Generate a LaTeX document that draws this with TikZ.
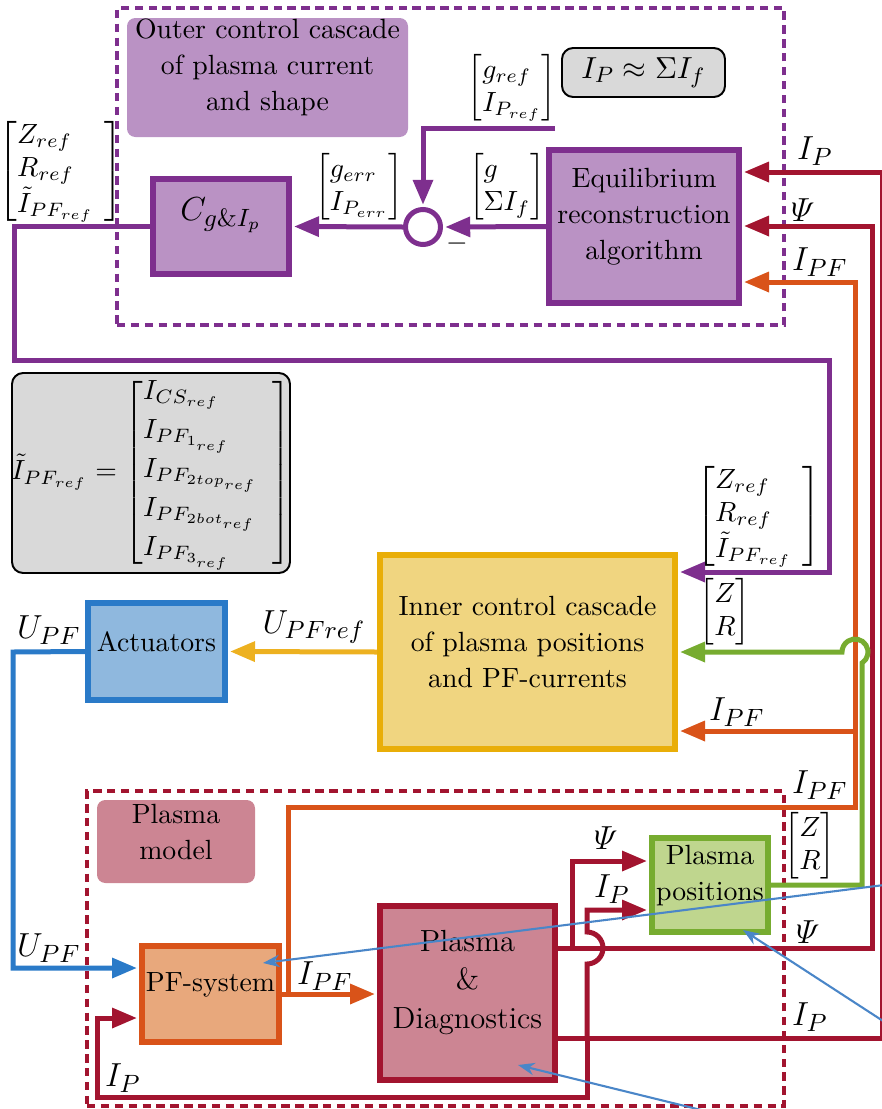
\documentclass[tikz,border=0pt]{standalone}
\usepackage{amsmath}
\usetikzlibrary{arrows.meta,fit}

\definecolor{mpurple}{HTML}{7E2F8E}
\definecolor{mpurplefill}{HTML}{BA92C4}
\definecolor{mred}{HTML}{A2142F}
\definecolor{mredfill}{HTML}{CC8593}
\definecolor{morange}{HTML}{D95319}
\definecolor{morangefill}{HTML}{E8A87C}
\definecolor{myellow}{HTML}{EDB120}
\definecolor{myellowdark}{HTML}{E9AE08}
\definecolor{myellowfill}{HTML}{F0D580}
\definecolor{mblue}{HTML}{2A7AC8}
\definecolor{mbluefill}{HTML}{8FB8DE}
\definecolor{mgreen}{HTML}{77AC30}
\definecolor{mgreenfill}{HTML}{BFD68E}
\definecolor{mgray}{HTML}{D9D9D9}
\definecolor{annot}{HTML}{4A86C8}

\tikzset{
  blk/.style={draw, line width=2pt, inner sep=0pt, align=center,
    font=\fontsize{10}{13}\selectfont},
  sig/.style={line width=1.8pt},
  tip/.style={-{Triangle[length=9pt,width=7pt]}, shorten >=0.8pt},
  lbl/.style={inner sep=0pt, font=\fontsize{13}{15}\selectfont},
  mat/.style={inner sep=0pt},
  note/.style={rounded corners=3pt, inner sep=0pt, align=center,
    font=\fontsize{10}{13}\selectfont},
  formula/.style={fill=mgray, draw=black, line width=0.7pt, rounded corners=4pt,
    inner sep=0pt},
  grp/.style={line width=1.1pt, dash pattern=on 3pt off 2pt, inner sep=0pt},
  pointer/.style={annot, line width=0.75pt, -{Stealth[length=6pt,width=4.5pt]}},
}

\begin{document}
\begin{tikzpicture}[x=0.36pt,y=-0.36pt]
\useasboundingbox (0,0) rectangle (881,1109);

% dashed groups
\node[grp, draw=mpurple, fit={(117,8) (784,325)}] (outergrp) {};
\node[grp, draw=mred, fit={(87,791) (784,1106)}] (plantgrp) {};

% caption boxes
\node[note, fill=mpurplefill, fit={(127,18) (408,137)}] (outerlbl)
  {Outer control cascade\\of plasma current\\and shape};
\node[note, fill=mredfill, fit={(97,800) (255,883)}] (plantlbl)
  {Plasma\\model};
\node[formula, fit={(562,48) (725,97)}] (approx) {};
\node[inner sep=0pt, font=\fontsize{11}{13}\selectfont] (approxtxt) at (approx.center)
  {$I_P \approx \Sigma I_f$};
\node[formula, fit={(12,373) (290,573)}] (defbox) {};
\node[inner sep=0pt, font=\fontsize{10}{12}\selectfont] (deftxt) at (defbox.center)
  {$\tilde{I}_{PF_{ref}} = \left[\begin{array}{@{}l@{\hspace{5pt}}}
     I_{CS_{ref}}\\[2pt] I_{PF_{1_{ref}}}\\[2pt] I_{PF_{2top_{ref}}}\\[2pt]
     I_{PF_{2bot_{ref}}}\\[2pt] I_{PF_{3_{ref}}}\end{array}\right]$};

% blocks
\node[blk, draw=mpurple, fill=mpurplefill, fit={(153,179) (289,274)},
  font=\fontsize{13}{15}\selectfont] (c) {$C_{g\&I_p}$};
\node[blk, draw=mpurple, fill=mpurplefill, fit={(549,150) (739,303)}] (eq)
  {Equilibrium\\reconstruction\\algorithm};
\node[circle, draw=mpurple, line width=1.8pt, fill=white, minimum size=12.6pt,
  inner sep=0pt] (sum) at (423,227) {};
\node[inner sep=0pt] (minus) at (457,244) {$-$};
\node[blk, draw=myellowdark, fill=myellowfill, fit={(380,555) (675,749)}] (inner)
  {Inner control cascade\\of plasma positions\\and PF-currents};
\node[blk, draw=mblue, fill=mbluefill, fit={(88,603) (225,700)}] (act) {Actuators};
\node[blk, draw=morange, fill=morangefill, fit={(142,946) (279,1042)}] (pf) {PF-system};
\node[blk, draw=mred, fill=mredfill, fit={(380,906) (555,1080)},
  font=\fontsize{11}{13.8}\selectfont] (pd) {Plasma\\\&\\Diagnostics};
\node[blk, draw=mgreen, fill=mgreenfill, fit={(652,838) (768,932)}] (pp)
  {Plasma\\positions};

% routing points
\coordinate (refin) at (555,128);
\coordinate (pA) at (14,360);
\coordinate (pB) at (829,572);
\coordinate (ipR) at (882.5,1038);
\coordinate (ipT) at (882.5,172);
\coordinate (ipS) at (587,1038);
\coordinate (ipJ) at (587,964);
\coordinate (ipP) at (587,910);
\coordinate (ipB) at (587,1097);
\coordinate (ipL) at (97,1097);
\coordinate (ipF) at (97,1018);
\coordinate (psiR) at (872,948);
\coordinate (psiT) at (872,226);
\coordinate (psiS) at (572,948);
\coordinate (psiP) at (572,861);
\coordinate (ifS) at (288,994);
\coordinate (ifA) at (288,807);
\coordinate (ifB) at (855,807);
\coordinate (ifT) at (855,282);
\coordinate (ifM) at (855,731);
\coordinate (gj) at (862,663);
\coordinate (uA) at (13,652);
\coordinate (uB) at (13,968);

% outer loop (purple)
\draw[sig, mpurple, tip] (eq.west) -- (sum.east);
\draw[sig, mpurple, tip] (sum.west) -- (c.east);
\draw[sig, mpurple, tip] (refin) -| (sum.north);
\draw[sig, mpurple, tip] (c.west) -| (pA) -| (pB) -- (inner.east |- pB);

% measurements (dark red)
\draw[sig, mred, tip] (pd.east |- ipR) -- (ipR) -- (ipT) -- (eq.east |- ipT);
\draw[sig, mred, tip] (pd.east |- psiR) -- (psiR) -- (psiT) -- (eq.east |- psiT);
\draw[sig, mred, tip] (psiS) |- (pp.west |- psiP);
\draw[sig, mred, tip] (ipS) -- (ipJ) arc[start angle=-90, end angle=90, radius=5.76pt]
  -- (ipP) -- (pp.west |- ipP);
\draw[sig, mred, tip] (ipS) -- (ipB) -- (ipL) -- (ipF) -- (pf.west |- ipF);

% coil currents (orange)
\draw[sig, morange, tip] (pf.east) -- (pd.west |- pf.east);
\draw[sig, morange, tip] (ifS) -- (ifA) -- (ifB) -- (ifT) -- (eq.east |- ifT);
\draw[sig, morange, tip] (ifM) -- (inner.east |- ifM);

% plasma positions (green) with a jump over the orange line
\draw[sig, mgreen, tip] (pp.east) -| (gj)
  arc[start angle=-57.5, end angle=180, radius=4.68pt] -- (inner.east);

% voltages
\draw[sig, myellow, tip] (inner.west) -- (act.east);
\draw[sig, mblue, tip] (act.west) -- (uA) -- (uB) -- (pf.west |- uB);

% signal labels
\node[mat] (lref) at (512,88)
  {$\left[\begin{array}{@{}l@{}} g_{ref}\\ I_{P_{ref}}\end{array}\right]$};
\node[mat] (lfb) at (507,187)
  {$\left[\begin{array}{@{}l@{}} g\\ \Sigma I_f\end{array}\right]$};
\node[mat] (lerr) at (359,187)
  {$\left[\begin{array}{@{}l@{}} g_{err}\\ I_{P_{err}}\end{array}\right]$};
\node[mat] (lrefa) at (61,171)
  {$\left[\begin{array}{@{}l@{\hspace{4pt}}} Z_{ref}\\ R_{ref}\\ \tilde{I}_{PF_{ref}}\end{array}\right]$};
\node[mat] (lrefb) at (759,516)
  {$\left[\begin{array}{@{}l@{\hspace{4pt}}} Z_{ref}\\ R_{ref}\\ \tilde{I}_{PF_{ref}}\end{array}\right]$};
\node[mat] (lzra) at (725,612)
  {$\left[\begin{array}{@{}l@{}} Z\\ R\end{array}\right]$};
\node[mat] (lzrb) at (810,846)
  {$\left[\begin{array}{@{}l@{}} Z\\ R\end{array}\right]$};

\node[lbl] (tIPa) at (815,151) {$I_P$};
\node[lbl] (tPsia) at (803,210) {$\varPsi$};
\node[lbl] (tIPFa) at (820,262) {$I_{PF}$};
\node[lbl] (tIPFb) at (737,712) {$I_{PF}$};
\node[lbl] (tIPFc) at (820,785) {$I_{PF}$};
\node[lbl] (tIPFd) at (325,976) {$I_{PF}$};
\node[lbl] (tU) at (314,627) {$U_{PFref}$};
\node[lbl] (tUa) at (49,630) {$U_{PF}$};
\node[lbl] (tUb) at (49,948) {$U_{PF}$};
\node[lbl] (tIPb) at (123,1078) {$I_P$};
\node[lbl] (tPsib) at (606,838) {$\varPsi$};
\node[lbl] (tIPc) at (612,889) {$I_P$};
\node[lbl] (tPsic) at (808,932) {$\varPsi$};
\node[lbl] (tIPd) at (810,1017) {$I_P$};

% pointers coming from outside
\coordinate (ptA) at (900,883);
\coordinate (ptAend) at (263,963);
\coordinate (ptB) at (900,1032);
\coordinate (ptBend) at (743,930);
\coordinate (ptC) at (742,1120);
\coordinate (ptCend) at (518,1065);
\draw[pointer] (ptA) -- (ptAend);
\draw[pointer] (ptB) -- (ptBend);
\draw[pointer] (ptC) -- (ptCend);
\end{tikzpicture}
\end{document}
